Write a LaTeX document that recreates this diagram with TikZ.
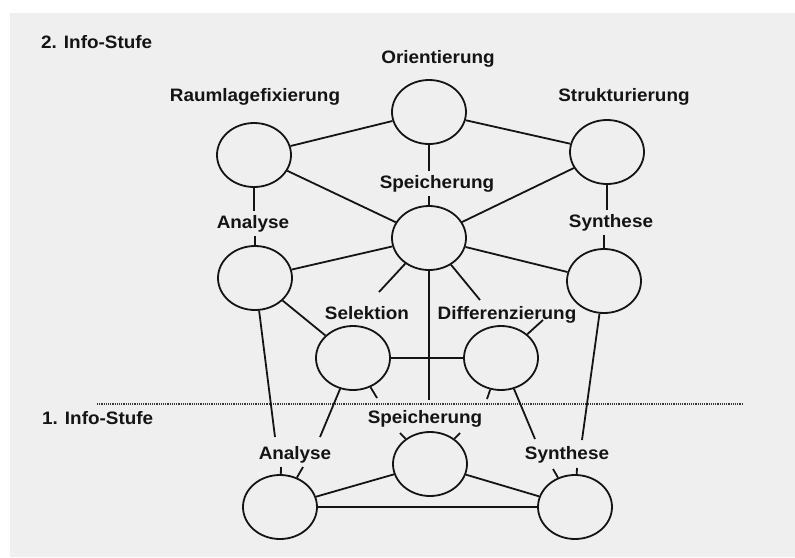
\documentclass[tikz,border=0pt]{standalone}
\usepackage{fontspec}
\setmainfont[FakeStretch=1.05,UprightFont={* Bold}]{Liberation Sans}
\usetikzlibrary{shapes.geometric}
\definecolor{paper}{RGB}{239,239,239}
\definecolor{ink}{RGB}{20,20,20}

\begin{document}
\begin{tikzpicture}[x=1pt,y=-1pt,
  unit/.style={ellipse,draw=ink,line width=1.8pt,minimum width=74pt,minimum height=64pt,inner sep=0pt},
  lbl/.style={inner sep=4pt,anchor=base,font=\fontsize{18}{20}\selectfont,text=ink},
  lvl/.style={inner sep=0pt,anchor=base west,font=\fontsize{18}{20}\selectfont,text=ink},
  link/.style={draw=ink,line width=1.8pt},
  border/.style={draw=ink!85,line width=1.2pt,densely dotted}]

\useasboundingbox (0,0) rectangle (795,557);
\fill[white] (0,0) rectangle (795,557);
\fill[paper] (10,13) rectangle (795,557);

% level captions
\node[lvl] (lvlTwo) at (41,48) {2. Info-Stufe};
\node[lvl] (lvlOne) at (42,424) {1. Info-Stufe};

% boundary between the two levels
\coordinate (sepL) at (97,404);
\coordinate (sepR) at (742,404);
\draw[border] (sepL) -- (sepR);

% units of the second level
\node[unit] (ori)  at (429,112) {};
\node[unit] (raum) at (254,155) {};
\node[unit] (str)  at (607,152) {};
\node[unit] (spU)  at (429,238) {};
\node[unit] (anU)  at (255,278) {};
\node[unit] (synU) at (604,281) {};
\node[unit] (sel)  at (353,358) {};
\node[unit] (dif)  at (501,358) {};

% units of the first level
\node[unit] (spL)  at (430,464) {};
\node[unit] (anL)  at (280,507) {};
\node[unit] (synL) at (575,507) {};

% labels
\node[lbl] (oriT)  at (438,63)  {Orientierung};
\node[lbl] (raumT) at (255,101) {Raumlagefixierung};
\node[lbl] (strT)  at (624,101) {Strukturierung};
\node[lbl] (spUT)  at (437,188) {Speicherung};
\node[lbl] (anUT)  at (253,228) {Analyse};
\node[lbl] (synUT) at (611,227) {Synthese};
\node[lbl] (selT)  at (367,319) {Selektion};
\node[lbl] (difT)  at (507,319) {Differenzierung};
\node[lbl] (spLT)  at (425,423) {Speicherung};
\node[lbl] (anLT)  at (295,459) {Analyse};
\node[lbl] (synLT) at (567,459) {Synthese};

% vertical links broken by their labels
\draw[link] (ori) -- (ori |- spUT.north);
\draw[link] (spU |- spUT.south) -- (spU);
\draw[link] (raum) -- (raum |- anUT.north);
\draw[link] (anU |- anUT.south) -- (anU);
\draw[link] (str) -- (str |- synUT.north);
\draw[link] (synU |- synUT.south) -- (synU);

% second level network
\draw[link] (ori) -- (raum);
\draw[link] (ori) -- (str);
\draw[link] (raum) -- (spU);
\draw[link] (str) -- (spU);
\draw[link] (anU) -- (spU);
\draw[link] (synU) -- (spU);
\draw[link] (anU) -- (sel);
\draw[link] (sel) -- (dif);

% open ends
\coordinate (toSel)    at (379,292);
\coordinate (toDif)    at (480,300);
\coordinate (toSpL)    at (429,400);
\coordinate (difTop)   at (543,320);
\coordinate (selDown)  at (377,398);
\coordinate (difDown)  at (487,399);
\coordinate (anUDown)  at (275,437);
\coordinate (selAn)    at (320,437);
\coordinate (difSyn)   at (535,439);
\coordinate (synUDown) at (582,440);
\coordinate (spLa)     at (400,433);
\coordinate (spLb)     at (460,433);
\coordinate (anLa)     at (281,467);
\coordinate (anLb)     at (303,467);
\coordinate (synLa)    at (553,469);
\coordinate (synLb)    at (577,468);

\draw[link] (spU) -- (toSel);
\draw[link] (spU) -- (toDif);
\draw[link] (spU) -- (toSpL);
\draw[link] (dif) -- (difTop);
\draw[link] (sel) -- (selDown);
\draw[link] (dif) -- (difDown);
\draw[link] (anU) -- (anUDown);
\draw[link] (sel) -- (selAn);
\draw[link] (dif) -- (difSyn);
\draw[link] (synU) -- (synUDown);
\draw[link] (spL) -- (spLa);
\draw[link] (spL) -- (spLb);
\draw[link] (anL) -- (anLa);
\draw[link] (anL) -- (anLb);
\draw[link] (synL) -- (synLa);
\draw[link] (synL) -- (synLb);

% first level network
\draw[link] (spL) -- (anL);
\draw[link] (spL) -- (synL);
\draw[link] (anL) -- (synL);
\end{tikzpicture}
\end{document}
